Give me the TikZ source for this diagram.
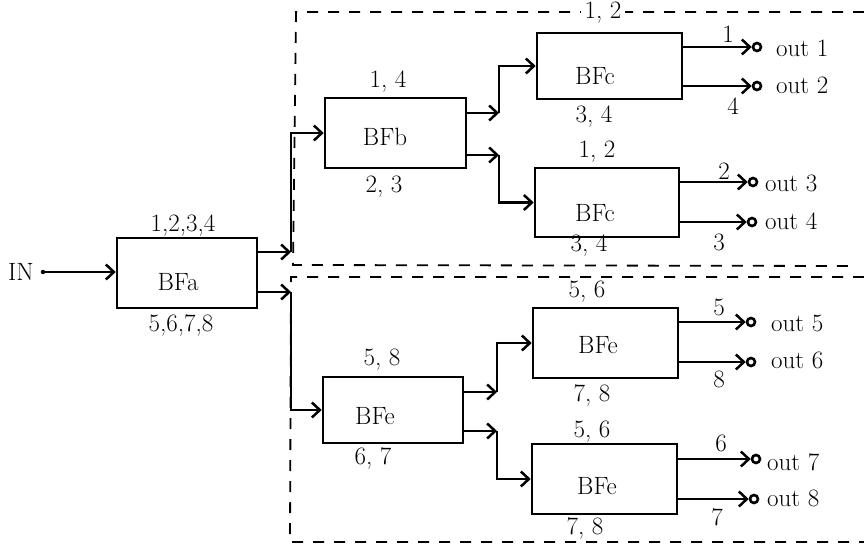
\documentclass[tikz,border=0pt]{standalone}
\usetikzlibrary{arrows.meta}
\begin{document}
\begin{tikzpicture}[x=1pt,y=-1pt,
  box/.style={draw, line width=2.6pt, inner sep=0pt},
  txt/.style={inner sep=0pt, font=\fontsize{25}{28}\selectfont},
  num/.style={inner sep=0pt, font=\fontsize{25}{28}\selectfont},
  conn/.style={line width=2.5pt, -{Straight Barb[length=8pt,width=15pt,line width=2.5pt]}},
  term/.style={circle, draw, line width=2.6pt, minimum size=8pt, inner sep=0pt},
  region/.style={line width=1.8pt, dash pattern=on 11pt off 10pt}
]
\useasboundingbox (0,0) rectangle (864,553);

% dashed regions
\draw[region] (864,12) -- (296,12) -- (293,265) -- (850,266);
\draw[region] (864,277) -- (291,277) -- (290,542) -- (864,542);

% boxes
\node[box, minimum width=140pt, minimum height=70pt] (BFa) at (187,273) {};
\node[box, minimum width=141pt, minimum height=70pt] (BFb) at (395.5,133) {};
\node[box, minimum width=145pt, minimum height=66pt] (BFc1) at (609.5,66) {};
\node[box, minimum width=144pt, minimum height=69pt] (BFc2) at (607,202.5) {};
\node[box, minimum width=140pt, minimum height=66pt] (BFe0) at (393,410) {};
\node[box, minimum width=145pt, minimum height=70pt] (BFe1) at (605.5,343) {};
\node[box, minimum width=145pt, minimum height=70pt] (BFe2) at (604.5,479) {};

% box texts
\node[txt] (tBFa) at (178,282) {BFa};
\node[txt] (tBFb) at (385,137) {BFb};
\node[txt] (tBFc1) at (595,76) {BFc};
\node[txt] (tBFc2) at (595,213) {BFc};
\node[txt] (tBFe0) at (375,416) {BFe};
\node[txt] (tBFe1) at (598,345) {BFe};
\node[txt] (tBFe2) at (597,486) {BFe};

% box labels
\node[num] (la1) at (183,226) {1,2,3,4};
\node[num] (la2) at (181,325) {5,6,7,8};
\node[num] (lb1) at (388,82) {1, 4};
\node[num] (lb2) at (384,187) {2, 3};
\node[num, fill=white, inner xsep=4pt] (lc11) at (603,13) {1, 2};
\node[num] (lc12) at (594,117) {3, 4};
\node[num] (lc21) at (597,152) {1, 2};
\node[num] (lc22) at (589,246) {3, 4};
\node[num] (le01) at (382,360) {5, 8};
\node[num] (le02) at (373,458) {6, 7};
\node[num] (le11) at (587,292) {5, 6};
\node[num] (le12) at (592,395) {7, 8};
\node[num] (le21) at (592,432) {5, 6};
\node[num] (le22) at (585,528) {7, 8};

% input
\node[num] (IN) at (21,272) {IN};
\coordinate (inS) at (43,272);
\fill (inS) circle (2.2pt);
\draw[conn] (inS) -- (BFa.west |- inS);

% junctions
\coordinate (ja1) at (291,252);
\coordinate (ja2) at (291,292);
\coordinate (jb1) at (499,113);
\coordinate (jb2) at (499,155);
\coordinate (je1) at (497,392);
\coordinate (je2) at (497,431);

\draw[conn] (BFa.east |- ja1) -- (ja1);
\draw[conn] (BFa.east |- ja2) -- (ja2);
\draw[conn] (ja1) |- (BFb.west);
\draw[conn] (ja2) |- (BFe0.west);

\draw[conn] (BFb.east |- jb1) -- (jb1);
\draw[conn] (BFb.east |- jb2) -- (jb2);
\draw[conn] (jb1) |- (BFc1.west);
\draw[conn] (jb2) |- (BFc2.west);

\draw[conn] (BFe0.east |- je1) -- (je1);
\draw[conn] (BFe0.east |- je2) -- (je2);
\draw[conn] (je1) |- (BFe1.west);
\draw[conn] (je2) |- (BFe2.west);

% output terminals
\node[term] (o1) at (757,47) {};
\node[term] (o2) at (757,86) {};
\node[term] (o3) at (753,182) {};
\node[term] (o4) at (752,222) {};
\node[term] (o5) at (751,322) {};
\node[term] (o6) at (751,362) {};
\node[term] (o7) at (756,459) {};
\node[term] (o8) at (754,499) {};

\draw[conn] (BFc1.east |- o1) -- (o1.west);
\draw[conn] (BFc1.east |- o2) -- (o2.west);
\draw[conn] (BFc2.east |- o3) -- (o3.west);
\draw[conn] (BFc2.east |- o4) -- (o4.west);
\draw[conn] (BFe1.east |- o5) -- (o5.west);
\draw[conn] (BFe1.east |- o6) -- (o6.west);
\draw[conn] (BFe2.east |- o7) -- (o7.west);
\draw[conn] (BFe2.east |- o8) -- (o8.west);

% output labels
\node[num, anchor=west] (out1) at (776,48) {out 1};
\node[num, anchor=west] (out2) at (776,85) {out 2};
\node[num, anchor=west] (out3) at (765,183) {out 3};
\node[num, anchor=west] (out4) at (765,221) {out 4};
\node[num, anchor=west] (out5) at (771,323) {out 5};
\node[num, anchor=west] (out6) at (771,360) {out 6};
\node[num, anchor=west] (out7) at (767,462) {out 7};
\node[num, anchor=west] (out8) at (767,498) {out 8};

% line numbers
\node[num] (n1) at (728,34) {1};
\node[num] (n4) at (733,106) {4};
\node[num] (n2) at (724,171) {2};
\node[num] (n3) at (719,242) {3};
\node[num] (n5) at (719,307) {5};
\node[num] (n8) at (719,379) {8};
\node[num] (n6) at (721,443) {6};
\node[num] (n7) at (717,517) {7};
\end{tikzpicture}
\end{document}
